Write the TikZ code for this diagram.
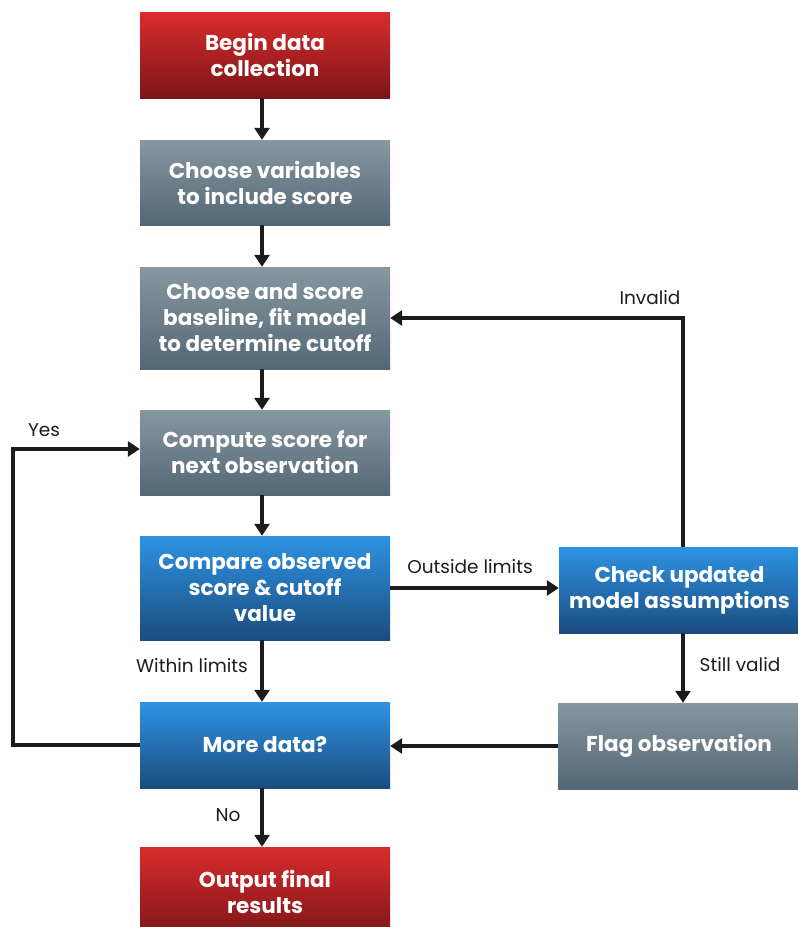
\documentclass[tikz,border=0pt]{standalone}
\usepackage{fontspec}
\setmainfont{Poppins}
\usetikzlibrary{arrows.meta}
\definecolor{redT}{HTML}{DA2C2C}
\definecolor{redB}{HTML}{7C1518}
\definecolor{grayT}{HTML}{86979F}
\definecolor{grayB}{HTML}{536775}
\definecolor{blueT}{HTML}{2E93E4}
\definecolor{blueB}{HTML}{1B4C7E}
\definecolor{ink}{HTML}{1C1C1C}
\tikzset{
  box/.style={rectangle, minimum width=250pt, inner sep=0pt, align=center,
    text=white, font=\fontsize{21.5}{26}\selectfont\bfseries},
  redbox/.style={box, top color=redT, bottom color=redB},
  graybox/.style={box, top color=grayT, bottom color=grayB},
  bluebox/.style={box, top color=blueT, bottom color=blueB},
  arr/.style={draw=ink, line width=4.5pt, -{Triangle[length=12pt,width=15pt]}},
  lab/.style={text=ink, font=\fontsize{18.5}{22}\selectfont, inner sep=0pt}
}
\begin{document}
\begin{tikzpicture}[x=1pt,y=-1pt]
\useasboundingbox (0,0) rectangle (798,927);
\node[redbox, minimum height=86pt] (begin) at (265,55) {Begin data\\collection};
\node[graybox, minimum height=85pt] (vars) at (265,182.5) {Choose variables\\to include score};
\node[graybox, minimum height=102pt] (base) at (265,318) {Choose and score\\baseline, fit model\\to determine cutoff};
\node[graybox, minimum height=85pt] (comp) at (265,452.5) {Compute score for\\next observation};
\node[bluebox, minimum height=104pt] (cmp) at (265,588) {Compare observed\\score \& cutoff\\value};
\node[bluebox, minimum height=86pt] (more) at (265,745) {More data?};
\node[redbox, minimum height=90pt] (out) at (265,892) {Output final\\results};
\node[bluebox, minimum width=241pt, minimum height=86pt] (check) at (679.5,590) {Check updated\\model assumptions};
\node[graybox, minimum width=242pt, minimum height=86pt] (flag) at (679,746) {Flag observation};
\coordinate (yl) at (13,449);
\draw[arr] ([xshift=-3pt]begin.south) -- ([xshift=-3pt]vars.north);
\draw[arr] ([xshift=-3pt]vars.south) -- ([xshift=-3pt]base.north);
\draw[arr] ([xshift=-3pt]base.south) -- ([xshift=-3pt]comp.north);
\draw[arr] ([xshift=-3pt]comp.south) -- ([xshift=-3pt]cmp.north);
\draw[arr] ([xshift=-3pt]cmp.south) -- ([xshift=-3pt]more.north);
\draw[arr] ([xshift=-3pt]more.south) -- ([xshift=-3pt]out.north);
\draw[arr] (cmp.east) -- (cmp.east -| check.west);
\draw[arr] ([xshift=3.5pt]check.north) |- (base.east);
\draw[arr] ([xshift=3.5pt]check.south) -- ([xshift=3.5pt]check.south |- flag.north);
\draw[arr] (flag.west) -- (flag.west -| more.east);
\draw[arr] (more.west) -- (more.west -| yl) -- (yl) -- (yl -| comp.west);
\node[lab] (lyes) at (44,430) {Yes};
\node[lab] (linv) at (650,298) {Invalid};
\node[lab] (lout) at (470,567) {Outside limits};
\node[lab, anchor=east] (lwith) at (248,666) {Within limits};
\node[lab] (lno) at (228,815) {No};
\node[lab] (lstill) at (740,665) {Still valid};
\end{tikzpicture}
\end{document}
